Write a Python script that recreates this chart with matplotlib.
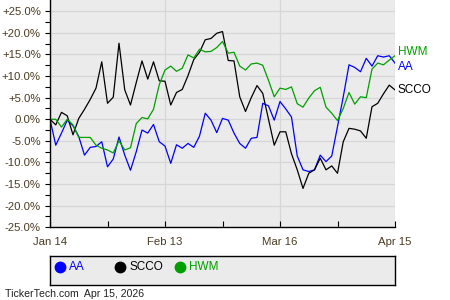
import numpy as np
import matplotlib
matplotlib.use("Agg")
import matplotlib.pyplot as plt

plt.rcParams['font.family'] = ['Liberation Sans', 'DejaVu Sans']

# percent change since Jan 14, one value per trading day
aa = [0, -6.0, -3.2, -0.2, -1.5, -4.0, -8.3, -6.5, -6.3, -5.2,
      -11.0, -9.2, -4.1, -8.3, -11.8, -7.5, -2.5, -3.2, -1.2, -5.2,
      -6.2, -10.2, -5.9, -6.7, -5.6, -6.5, -3.9, 1.4, -0.2, -3.1,
      0.2, -0.2, -3.2, -5.6, -6.7, -4.4, -4.2, 3.7, 3.1, -0.2,
      4.1, 2.4, 0.5, -8.5, -11.7, -12.1, -11.7, -8.3, -9.8, -8.5,
      -1.7, 5.2, 12.6, 12.0, 11.0, 14.1, 12.3, 14.7, 14.4, 14.7,
      13.0]
scco = [0, -1.3, 1.6, 0.8, -3.6, 0.2, 2.3, 4.6, 7.2, 13.3,
        3.7, 5.1, 17.6, 6.8, 3.3, 8.5, 13.5, 9.3, 13.3, 8.9,
        8.8, 3.3, 6.2, 6.9, 10.1, 13.8, 15.5, 18.4, 18.7, 19.9,
        20.3, 13.6, 13.5, 5.2, 1.8, 5.0, 7.8, 6.0, 0.0, -6.0,
        -2.9, -2.9, -8.0, -11.7, -16.0, -12.5, -11.7, -9.0, -11.7, -10.8,
        -12.5, -5.2, -2.1, -2.3, -2.7, -4.4, 2.9, 3.7, 5.9, 7.9,
        6.8]
hwm = [0, 0, -1.8, 0, -1.3, -4.2, -4.2, -4.2, -6.0, -6.7,
       -7.1, -7.8, -5.0, -7.1, -6.6, -1.0, 0.4, 0.1, 2.3, 8.0,
       11.4, 12.3, 11.1, 11.8, 14.9, 14.2, 16.2, 15.6, 15.7, 16.6,
       18.0, 15.3, 15.5, 12.3, 11.4, 12.8, 13.0, 12.5, 9.0, 5.2,
       7.2, 6.9, 7.5, 3.6, 2.8, 4.9, 6.6, 7.4, 2.8, 1.4,
       -0.3, 2.5, 6.2, 3.5, 5.2, 5.0, 11.6, 13.0, 12.6, 13.7,
       14.7]

names = ['AA', 'SCCO', 'HWM']
colors = ['#0000ff', '#000000', '#00a000']
date_ticks = [0, 20, 40, 60]
date_labels = ['Jan 14', 'Feb 13', 'Mar 16', 'Apr 15']
label_offsets = [-3, 0, 3]  # px, keeps end labels apart

tick_col = '#4a3c22'

fig = plt.figure(figsize=(4.5, 3), dpi=100)
ax = fig.add_axes([50 / 450, 1 - 227.3 / 300, 345 / 450, 227.3 / 300])
ax.set_facecolor('#ebebeb')

x = np.arange(len(aa))
for s, c in zip([aa, scco, hwm], colors):
    ax.plot(x, s, color=c, lw=0.9)

ax.set_xlim(0, len(aa) - 1)
ax.set_ylim(-25, 27.6)

ax.set_yticks(np.arange(-25, 26, 5))
ax.set_yticklabels(['0.0%' if v == 0 else f'{v:+.1f}%' for v in np.arange(-25, 26, 5)])
ax.set_yticks(np.arange(-22.5, 26, 5), minor=True)
ax.set_xticks(date_ticks)
ax.set_xticklabels(date_labels)
ax.set_xticks([10, 30, 50], minor=True)

ax.grid(True, color='#d6d6d6', lw=0.9)
ax.set_axisbelow(True)
for sp in ['top', 'right']:
    ax.spines[sp].set_visible(False)
for sp in ['left', 'bottom']:
    ax.spines[sp].set_color('black')
    ax.spines[sp].set_linewidth(1.0)

ax.tick_params(axis='y', which='both', direction='out', length=3.5, width=0.8,
               pad=3, labelsize=8.2, labelcolor=tick_col)
ax.tick_params(axis='x', which='both', direction='in', length=4, width=0.8,
               pad=7, labelsize=8.2, labelcolor=tick_col)

# end-of-line labels
last = len(aa) - 1
for s, c, n, off in zip([aa, scco, hwm], colors, names, [-2.5, 0, 2.5]):
    ax.annotate(n, (last, s[-1]), xytext=(2, off), textcoords='offset points',
                color=c, fontsize=8.5, va='center', ha='left',
                annotation_clip=False)

# legend box
lax = fig.add_axes([50 / 450, 1 - 285 / 300, 345 / 450, 29 / 300])
lax.set_facecolor('#ebebeb')
lax.set_xlim(0, 345)
lax.set_ylim(0, 29)
lax.set_xticks([])
lax.set_yticks([])
for sp in lax.spines.values():
    sp.set_color('black')
    sp.set_linewidth(1.0)
for i, (n, c) in enumerate(zip(names, colors)):
    lax.plot([10 + 60 * i], [18], 'o', color=c, ms=7.5)
    lax.text(19 + 60 * i, 18, n, color=c, fontsize=8.5, va='center', ha='left')

fig.text(5 / 450, 1 - 294 / 300, 'TickerTech.com  Apr 15, 2026', fontsize=7.6,
         color='#222222', va='center', ha='left')

fig.savefig('out.png', dpi=100)
